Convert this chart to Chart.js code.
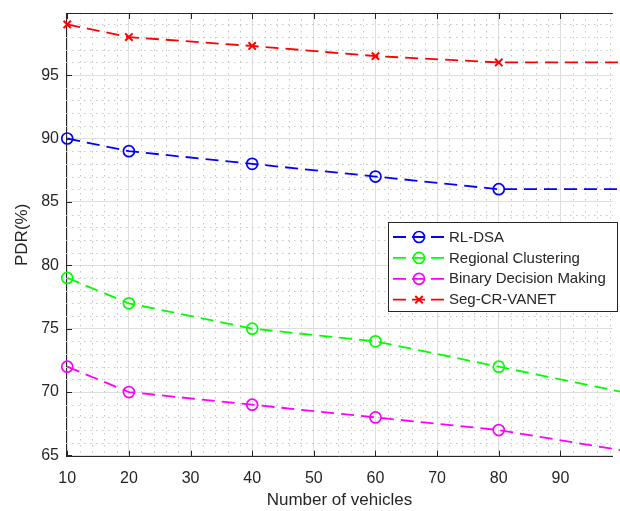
<!DOCTYPE html>
<html>
<head>
<meta charset="utf-8">
<script src="https://cdn.jsdelivr.net/npm/chart.js@4.4.0/dist/chart.umd.min.js"></script>
<style>
  html, body { margin: 0; padding: 0; background: #fff; overflow: hidden; }
  #wrap { width: 620px; height: 511px; position: relative; }
</style>
</head>
<body>
<div id="wrap"><canvas id="pdrChart"></canvas></div>
<script>
// data
const vehicles = [10, 20, 40, 60, 80, 100];
const rlDsa = [90, 89, 88, 87, 86, 86];
const regionalClustering = [79, 77, 75, 74, 72, 70];
const binaryDecision = [72, 70, 69, 68, 67, 65.4];
const segCrVanet = [99, 98, 97.3, 96.5, 96, 96];
const seriesNames = ["RL-DSA", "Regional Clustering", "Binary Decision Making", "Seg-CR-VANET"];
const xTicks = [10, 20, 30, 40, 50, 60, 70, 80, 90];
const yTicks = [65, 70, 75, 80, 85, 90, 95];

const textColor = "#262626";
const fontFamily = "'Liberation Sans', Arial, Helvetica, sans-serif";

function pts(values) {
  return values.map((v, i) => ({ x: vehicles[i], y: v }));
}

function series(label, values, color, style) {
  const cross = style === "crossRot";
  return {
    label: label,
    data: pts(values),
    borderColor: color,
    backgroundColor: color,
    borderWidth: 1.8,
    borderDash: [13, 7],
    pointStyle: style,
    pointRadius: values.map((v, i) => i < values.length - 1 ? (cross ? 5.2 : 5.5) : 0),
    pointBorderWidth: cross ? 2 : 1.7,
    pointBorderColor: color,
    pointBackgroundColor: "rgba(0,0,0,0)",
    tension: 0,
    fill: false,
    clip: false
  };
}

// MATLAB-ish frame: dotted minor grid, inward ticks, top border, legend
const matlabFrame = {
  id: "matlabFrame",
  beforeDatasetsDraw(chart) {
    const { ctx, chartArea: a, scales: { x, y } } = chart;
    ctx.save();
    ctx.strokeStyle = "#c6c6c6";
    ctx.lineWidth = 1;
    ctx.setLineDash([1.5, 4.5]);
    for (let v = 12; v < x.max; v += 2) {
      if (v % 10 === 0) continue;
      const px = Math.round(x.getPixelForValue(v)) + 0.5;
      ctx.beginPath(); ctx.moveTo(px, a.top); ctx.lineTo(px, a.bottom); ctx.stroke();
    }
    for (let v = 65; v < y.max; v += 1) {
      if (v % 5 === 0) continue;
      const py = Math.round(y.getPixelForValue(v)) + 0.5;
      ctx.beginPath(); ctx.moveTo(a.left, py); ctx.lineTo(a.right, py); ctx.stroke();
    }
    ctx.restore();
  },
  afterDatasetsDraw(chart) {
    const { ctx, chartArea: a, scales: { x, y } } = chart;
    ctx.save();
    ctx.strokeStyle = textColor;
    ctx.lineWidth = 1;
    ctx.setLineDash([]);
    // top border
    ctx.beginPath(); ctx.moveTo(a.left, a.top + 0.5); ctx.lineTo(a.right, a.top + 0.5); ctx.stroke();
    // inward ticks
    xTicks.forEach(v => {
      const px = Math.round(x.getPixelForValue(v)) + 0.5;
      ctx.beginPath(); ctx.moveTo(px, a.bottom); ctx.lineTo(px, a.bottom - 6); ctx.stroke();
      ctx.beginPath(); ctx.moveTo(px, a.top); ctx.lineTo(px, a.top + 6); ctx.stroke();
    });
    yTicks.forEach(v => {
      const py = Math.round(y.getPixelForValue(v)) + 0.5;
      ctx.beginPath(); ctx.moveTo(a.left, py); ctx.lineTo(a.left + 6, py); ctx.stroke();
    });

    // legend
    const bx = 388.5, by = 222.5, bw = 229, bh = 89;
    ctx.fillStyle = "#fff";
    ctx.fillRect(bx, by, bw, bh);
    ctx.strokeRect(bx, by, bw, bh);
    ctx.font = "15px " + fontFamily;
    ctx.textBaseline = "middle";
    chart.data.datasets.forEach((ds, i) => {
      const ry = 237 + i * 20.9;
      ctx.strokeStyle = ds.borderColor;
      ctx.lineWidth = 1.8;
      ctx.setLineDash([13, 6]);
      ctx.beginPath(); ctx.moveTo(393, ry); ctx.lineTo(446, ry); ctx.stroke();
      ctx.setLineDash([]);
      const mx = 419;
      if (ds.pointStyle === "crossRot") {
        ctx.lineWidth = 2;
        ctx.beginPath();
        ctx.moveTo(mx - 3.7, ry - 3.7); ctx.lineTo(mx + 3.7, ry + 3.7);
        ctx.moveTo(mx + 3.7, ry - 3.7); ctx.lineTo(mx - 3.7, ry + 3.7);
        ctx.stroke();
      } else {
        ctx.lineWidth = 1.7;
        ctx.beginPath(); ctx.arc(mx, ry, 5.5, 0, Math.PI * 2); ctx.stroke();
      }
      ctx.fillStyle = textColor;
      ctx.fillText(ds.label, 449, ry + 0.5);
    });
    ctx.restore();
  }
};

new Chart(document.getElementById("pdrChart"), {
  type: "line",
  data: {
    datasets: [
      series(seriesNames[0], rlDsa, "#0000ff", "circle"),
      series(seriesNames[1], regionalClustering, "#00ff00", "circle"),
      series(seriesNames[2], binaryDecision, "#ff00ff", "circle"),
      series(seriesNames[3], segCrVanet, "#ff0000", "crossRot")
    ]
  },
  options: {
    responsive: true,
    maintainAspectRatio: false,
    animation: false,
    layout: { padding: { top: 13, right: 0, left: 0, bottom: 0 } },
    plugins: { legend: { display: false }, tooltip: { enabled: false } },
    scales: {
      x: {
        type: "linear",
        min: 9.8,
        max: 98.5,
        afterBuildTicks: s => { s.ticks = xTicks.map(v => ({ value: v })); },
        afterFit: s => { s.height = 54.3; s.paddingLeft = 0; s.paddingRight = 0; },
        grid: { color: "#dedede", lineWidth: 1, drawTicks: false },
        border: { color: textColor, width: 1 },
        ticks: { color: textColor, padding: 12, font: { size: 16, family: fontFamily }, maxRotation: 0 },
        title: {
          display: true, text: "Number of vehicles", color: textColor,
          font: { size: 17, family: fontFamily }, padding: { top: 0, bottom: 0 }
        }
      },
      y: {
        type: "linear",
        min: 64.9,
        max: 99.9,
        afterBuildTicks: s => { s.ticks = yTicks.map(v => ({ value: v })); },
        afterFit: s => { s.width = 66; s.paddingTop = 0; s.paddingBottom = 0; },
        grid: { color: "#dedede", lineWidth: 1, drawTicks: false },
        border: { color: textColor, width: 1 },
        ticks: { color: textColor, padding: 7, font: { size: 16, family: fontFamily } },
        title: {
          display: true, text: "PDR(%)", color: textColor,
          font: { size: 17, family: fontFamily }, padding: { top: 12, bottom: 0 }
        }
      }
    }
  },
  plugins: [matlabFrame]
});
</script>
</body>
</html>
